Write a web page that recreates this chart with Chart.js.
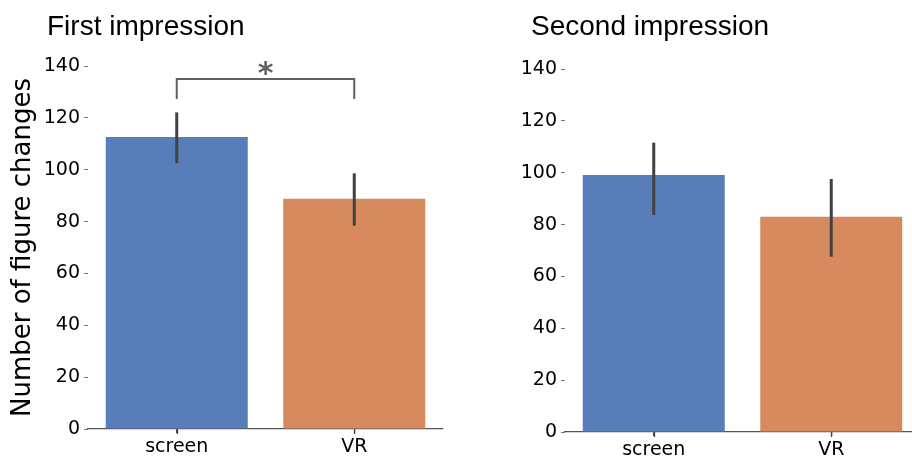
<!DOCTYPE html>
<html>
<head>
<meta charset="utf-8">
<script src="https://cdn.jsdelivr.net/npm/chart.js@4/dist/chart.umd.min.js"></script>
<style>
  html, body { margin: 0; padding: 0; background: #fff; overflow: hidden; width: 912px; height: 458px; }
  .panel { position: absolute; width: 460px; height: 458px; }
  #p1 { left: 0px; top: 0px; }
  #p2 { left: 477px; top: 3px; }
</style>
</head>
<body>
<div class="panel" id="p1"><canvas id="c1" width="460" height="458"></canvas></div>
<div class="panel" id="p2"><canvas id="c2" width="460" height="458"></canvas></div>
<script>
// ---- data ----
const categories = ['screen', 'VR'];
const firstMeans = [112.6, 88.8];
const firstLow   = [102.5, 78.4];
const firstHigh  = [122.1, 98.6];
const secondMeans = [99.1, 83.0];
const secondLow   = [83.7, 67.6];
const secondHigh  = [111.6, 97.6];
const yTicks = [0, 20, 40, 60, 80, 100, 120, 140];
const panelTitles = ['First impression', 'Second impression'];
const yAxisTitle = 'Number of figure changes';
const sigBracket = { from: 0, to: 1, level: 135, legBottom: 127.3, label: '*', labelLevel: 140 };

const barColors = ['rgb(89,125,185)', 'rgb(216,138,95)'];

const panelTitlePlugin = {
  id: 'panelTitle',
  afterDraw(chart, args, opts) {
    const ctx = chart.ctx;
    ctx.save();
    ctx.font = '28px "Liberation Sans", Arial, sans-serif';
    ctx.fillStyle = '#000';
    ctx.textBaseline = 'alphabetic';
    ctx.textAlign = 'left';
    ctx.fillText(opts.text, opts.x, opts.y);
    ctx.restore();
  }
};

const errorBarPlugin = {
  id: 'errorBars',
  afterDatasetsDraw(chart, args, opts) {
    const ctx = chart.ctx;
    const xs = chart.scales.x, ys = chart.scales.y;
    ctx.save();
    // category tick marks below the x axis
    ctx.strokeStyle = '#444';
    ctx.lineWidth = 1.3;
    categories.forEach((c, i) => {
      const x = Math.round(xs.getPixelForValue(i)) + 0.5;
      ctx.beginPath();
      ctx.moveTo(x, ys.bottom);
      ctx.lineTo(x, ys.bottom + 5);
      ctx.stroke();
    });
    ctx.strokeStyle = '#424242';
    ctx.lineWidth = 3;
    ctx.lineCap = 'butt';
    opts.low.forEach((lo, i) => {
      const x = xs.getPixelForValue(i);
      ctx.beginPath();
      ctx.moveTo(x, ys.getPixelForValue(lo));
      ctx.lineTo(x, ys.getPixelForValue(opts.high[i]));
      ctx.stroke();
    });
    const b = opts.bracket;
    if (b) {
      const x1 = xs.getPixelForValue(b.from), x2 = xs.getPixelForValue(b.to);
      const yTop = ys.getPixelForValue(b.level), yBot = ys.getPixelForValue(b.legBottom);
      ctx.strokeStyle = '#606060';
      ctx.lineWidth = 2;
      ctx.beginPath();
      ctx.moveTo(x1, yBot);
      ctx.lineTo(x1, yTop);
      ctx.lineTo(x2, yTop);
      ctx.lineTo(x2, yBot);
      ctx.stroke();
      const size = 30;
      ctx.font = 'bold ' + size + 'px "DejaVu Sans", sans-serif';
      ctx.fillStyle = '#606060';
      ctx.textAlign = 'center';
      ctx.textBaseline = 'alphabetic';
      ctx.fillText(b.label, (x1 + x2) / 2, ys.getPixelForValue(b.labelLevel) + 0.56 * size);
    }
    ctx.restore();
  }
};

function makeChart(canvasId, means, low, high, title, titlePos, showYTitle, bracket) {
  return new Chart(document.getElementById(canvasId), {
    type: 'bar',
    data: {
      labels: categories,
      datasets: [{
        data: means,
        backgroundColor: barColors,
        borderWidth: 0,
        categoryPercentage: 0.8,
        barPercentage: 1.0
      }]
    },
    options: {
      responsive: false,
      animation: false,
      devicePixelRatio: 1,
      layout: { padding: { left: 0, right: 17, top: 66, bottom: 0 } },
      plugins: {
        legend: { display: false },
        tooltip: { enabled: false },
        panelTitle: { text: title, x: titlePos[0], y: titlePos[1] },
        errorBars: { low: low, high: high, bracket: bracket }
      },
      scales: {
        x: {
          type: 'category',
          offset: true,
          grid: { display: true, offset: false, drawOnChartArea: false, drawTicks: true, tickLength: 4, tickColor: '#444', tickWidth: 1.3, color: '#555', lineWidth: 1.2 },
          border: { display: true, color: '#555', width: 1.3 },
          ticks: { color: '#000', font: { family: '"DejaVu Sans", sans-serif', size: 19 }, padding: 3, maxRotation: 0 },
          afterFit(scale) { scale.height = 29; }
        },
        y: {
          min: 0, max: 140,
          afterBuildTicks(scale) { scale.ticks = yTicks.map(v => ({ value: v })); },
          grid: { display: true, drawOnChartArea: false, tickLength: 4, color: '#777', lineWidth: 1 },
          border: { display: false },
          ticks: { color: '#000', font: { family: '"DejaVu Sans", sans-serif', size: 19 }, padding: 4 },
          title: {
            display: showYTitle, text: yAxisTitle, color: '#000',
            font: { family: '"DejaVu Sans", sans-serif', size: 26 },
            padding: { top: 8, bottom: 0 }
          },
          afterFit(scale) { scale.width = 88; }
        }
      }
    },
    plugins: [panelTitlePlugin, errorBarPlugin]
  });
}

makeChart('c1', firstMeans, firstLow, firstHigh, panelTitles[0], [47, 35], true, sigBracket);
makeChart('c2', secondMeans, secondLow, secondHigh, panelTitles[1], [54, 32], false, null);
</script>
</body>
</html>
